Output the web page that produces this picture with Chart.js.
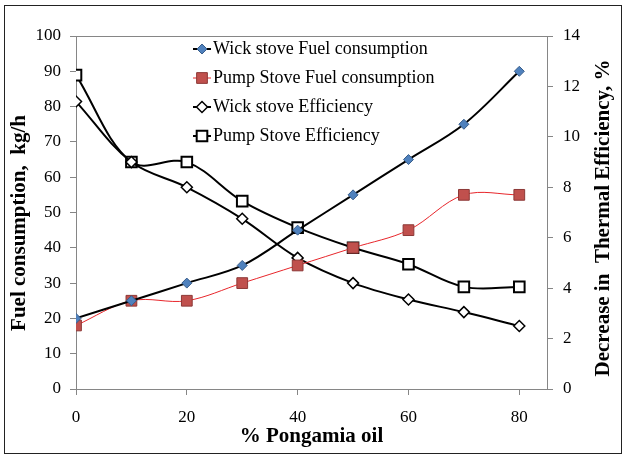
<!DOCTYPE html>
<html>
<head>
<meta charset="utf-8">
<script src="https://cdn.jsdelivr.net/npm/chart.js@4.4.0/dist/chart.umd.min.js"></script>
<style>
  html, body { margin: 0; padding: 0; background: #fff; }
  #wrap { width: 627px; height: 459px; }
</style>
</head>
<body>
<div id="wrap"><canvas id="chartStove" width="627" height="459"></canvas></div>
<script>
// % pongamia oil in the blend
const oilPercent = [0, 10, 20, 30, 40, 50, 60, 70, 80];
// fuel consumption, kg/h (left axis)
const wickFuel = [20, 25, 30, 35, 45, 55, 65, 75, 90];
const pumpFuel = [18, 25, 25, 30, 35, 40, 45, 55, 55];
// decrease in thermal efficiency, % (right axis)
const wickEff = [11.4, 9.0, 8.0, 6.75, 5.2, 4.2, 3.55, 3.05, 2.5];
const pumpEff = [12.45, 9.0, 9.0, 7.45, 6.4, 5.6, 4.95, 4.05, 4.05];
// tick labels
const xTicks = [0, 20, 40, 60, 80];
const leftTicks = [0, 10, 20, 30, 40, 50, 60, 70, 80, 90, 100];
const rightTicks = [0, 2, 4, 6, 8, 10, 12, 14];

const serif = '"Liberation Serif", "Times New Roman", serif';
const axisGray = '#868686';

function pts(ys) {
    return oilPercent.map((x, i) => ({ x: x, y: ys[i] }));
}

const datasets = [{
    label: 'Wick stove Fuel consumption',
    data: pts(wickFuel),
    yAxisID: 'y',
    borderColor: '#000',
    borderWidth: 2,
    pointStyle: 'rectRot',
    pointRadius: 5,
    pointBackgroundColor: '#4F81BD',
    pointBorderColor: '#385D8A',
    pointBorderWidth: 1
}, {
    label: 'Pump Stove Fuel consumption',
    data: pts(pumpFuel),
    yAxisID: 'y',
    borderColor: '#E8262B',
    borderWidth: 1,
    pointStyle: 'rect',
    pointRadius: 7.6,
    pointBackgroundColor: '#C0504D',
    pointBorderColor: '#8C3836',
    pointBorderWidth: 1
}, {
    label: 'Wick stove Efficiency',
    data: pts(wickEff),
    yAxisID: 'y1',
    borderColor: '#000',
    borderWidth: 2,
    pointStyle: 'rectRot',
    pointRadius: 5.5,
    pointBackgroundColor: '#fff',
    pointBorderColor: '#000',
    pointBorderWidth: 1.5
}, {
    label: 'Pump Stove Efficiency',
    data: pts(pumpEff),
    yAxisID: 'y1',
    borderColor: '#000',
    borderWidth: 2,
    pointStyle: 'rect',
    pointRadius: 7.5,
    pointBackgroundColor: '#fff',
    pointBorderColor: '#000',
    pointBorderWidth: 2
}];

function vTitle(ctx, text, x, y) {
    ctx.save();
    ctx.translate(x, y);
    ctx.rotate(-Math.PI / 2);
    ctx.font = 'bold 21px ' + serif;
    ctx.textAlign = 'center';
    ctx.textBaseline = 'middle';
    ctx.fillStyle = '#000';
    ctx.fillText(text, 0, 0);
    ctx.restore();
}

// frame, top edge of plot, legend and the two side titles
const extras = {
    id: 'extras',
    beforeDraw(chart) {
        const ctx = chart.ctx;
        ctx.save();
        ctx.fillStyle = '#fff';
        ctx.fillRect(0, 0, chart.width, chart.height);
        ctx.strokeStyle = '#222';
        ctx.lineWidth = 1;
        ctx.strokeRect(4.5, 5.5, 617, 448);
        ctx.restore();
    },
    afterDraw(chart) {
        const ctx = chart.ctx;
        const a = chart.chartArea;
        ctx.save();
        ctx.strokeStyle = axisGray;
        ctx.lineWidth = 1;
        ctx.beginPath();
        ctx.moveTo(a.left, a.top + 0.5);
        ctx.lineTo(a.right, a.top + 0.5);
        ctx.stroke();

        // legend
        ctx.font = '18px ' + serif;
        ctx.textBaseline = 'middle';
        ctx.textAlign = 'left';
        chart.data.datasets.forEach((ds, i) => {
            const y = 49 + i * 29;
            ctx.strokeStyle = ds.borderColor;
            ctx.lineWidth = ds.borderWidth;
            ctx.beginPath();
            ctx.moveTo(193, y);
            ctx.lineTo(211, y);
            ctx.stroke();
            ctx.fillStyle = ds.pointBackgroundColor;
            ctx.strokeStyle = ds.pointBorderColor;
            ctx.lineWidth = ds.pointBorderWidth;
            Chart.helpers.drawPoint(ctx, {
                pointStyle: ds.pointStyle,
                radius: ds.pointRadius,
                rotation: 0,
                borderWidth: ds.pointBorderWidth
            }, 202, y);
            ctx.fillStyle = '#000';
            ctx.fillText(ds.label, 213, y);
        });
        ctx.restore();

        vTitle(ctx, 'Fuel consumption,  kg/h', 20, 223);
        vTitle(ctx, 'Decrease in  Thermal Efficiency, %', 604, 218);
    }
};

new Chart(document.getElementById('chartStove').getContext('2d'), {
    type: 'line',
    data: { datasets: datasets },
    options: {
        responsive: false,
        animation: false,
        events: [],
        layout: { padding: { left: 6, right: 8, top: 36, bottom: 8 } },
        elements: { line: { tension: 0.35, fill: false } },
        plugins: {
            legend: { display: false },
            tooltip: { enabled: false }
        },
        scales: {
            x: {
                type: 'linear',
                position: 'bottom',
                min: 0,
                max: 85,
                afterBuildTicks: (s) => { s.ticks = xTicks.map(v => ({ value: v })); },
                afterFit: (s) => { s.height = 62; },
                grid: { drawOnChartArea: false, tickLength: 6, color: axisGray },
                border: { color: axisGray },
                ticks: { color: '#000', padding: 12, font: { family: serif, size: 17 } },
                title: {
                    display: true,
                    text: '% Pongamia oil',
                    color: '#000',
                    padding: { top: 0, bottom: 2 },
                    font: { family: serif, size: 21, weight: 'bold' }
                }
            },
            y: {
                position: 'left',
                min: 0,
                max: 100,
                afterBuildTicks: (s) => { s.ticks = leftTicks.map(v => ({ value: v })); },
                afterFit: (s) => { s.width = 70; },
                grid: { drawOnChartArea: false, tickLength: 6, color: axisGray },
                border: { color: axisGray },
                ticks: { color: '#000', padding: 9, font: { family: serif, size: 17 } }
            },
            y1: {
                position: 'right',
                min: 0,
                max: 14,
                afterBuildTicks: (s) => { s.ticks = rightTicks.map(v => ({ value: v })); },
                afterFit: (s) => { s.width = 72; },
                grid: { drawOnChartArea: false, tickLength: 6, color: axisGray },
                border: { color: axisGray },
                ticks: { color: '#000', padding: 10, font: { family: serif, size: 17 } }
            }
        }
    },
    plugins: [extras]
});
</script>
</body>
</html>
